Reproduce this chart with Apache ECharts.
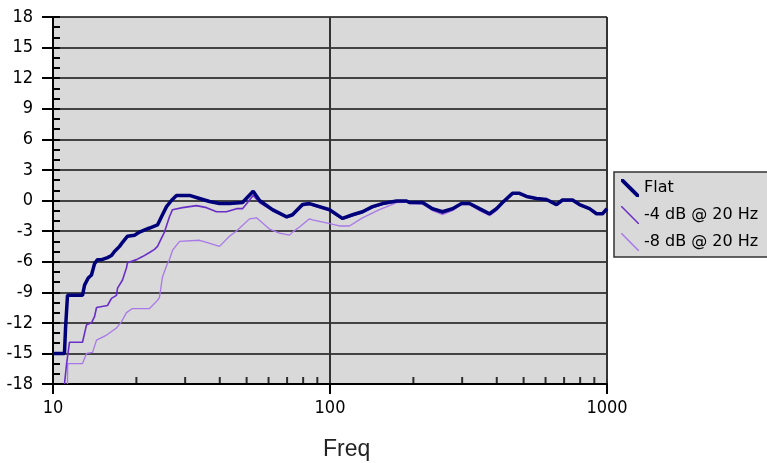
<!DOCTYPE html>
<html>
<head>
<meta charset="utf-8">
<script src="https://cdn.jsdelivr.net/npm/echarts@6/dist/echarts.min.js"></script>
<style>html,body{margin:0;padding:0;background:#fff}#c{width:767px;height:463px}</style>
</head>
<body>
<div id="c"></div>
<script>
// ---- data (frequency in Hz, level in dB) ----
const seriesNames = ['Flat', '-4 dB @ 20 Hz', '-8 dB @ 20 Hz'];

const flatFreq = [10, 11.0, 11.1, 11.28, 12.78, 13.0, 13.4, 13.77, 13.9, 14.12, 14.48, 15.0, 15.73, 16.26, 16.67, 17.39, 17.82, 18.58, 19.69, 20.53, 21.76, 22.31, 23.84, 24.84, 25.69, 26.77, 27.91, 31.1, 33.8, 36.73, 39.91, 43.37, 48.32, 52.8, 55.67, 61.98, 69.66, 73.2, 79.56, 84.33, 91.66, 99.6, 110.9, 120.6, 131.0, 142.4, 154.7, 173.9, 188.9, 193.6, 215.8, 234.4, 254.7, 276.9, 298.4, 318.9, 346.5, 376.6, 399.1, 419.5, 455.8, 483.2, 512.2, 556.6, 604.7, 657.2, 690.8, 750.6, 795.6, 864.8, 916.6, 963.4, 1000];
const flatDb   = [-15.0, -15.0, -12.5, -9.3, -9.3, -8.3, -7.6, -7.3, -6.9, -6.2, -5.8, -5.8, -5.6, -5.4, -5.0, -4.5, -4.1, -3.5, -3.4, -3.1, -2.8, -2.7, -2.4, -1.4, -0.6, 0.0, 0.5, 0.5, 0.2, -0.1, -0.3, -0.3, -0.2, 0.9, 0.0, -0.9, -1.6, -1.4, -0.4, -0.3, -0.6, -0.9, -1.75, -1.4, -1.1, -0.6, -0.3, -0.05, -0.05, -0.2, -0.2, -0.8, -1.1, -0.8, -0.3, -0.3, -0.8, -1.3, -0.8, -0.2, 0.7, 0.7, 0.4, 0.2, 0.1, -0.4, 0.05, 0.05, -0.4, -0.8, -1.3, -1.3, -0.8];

const m4Freq = [11.0, 11.2, 11.47, 12.78, 13.21, 13.77, 14.12, 14.36, 15.73, 16.26, 16.95, 17.1, 17.82, 18.42, 18.58, 20.02, 21.05, 22.31, 23.25, 23.84, 24.64, 25.26, 26.33, 27.0, 29.34, 32.96, 35.83, 38.93, 42.3, 45.97, 48.32, 52.8, 55.67, 61.98, 69.66, 73.2, 79.56, 84.33, 91.66, 99.6, 110.9, 120.6, 131.0, 142.4, 154.7, 173.9, 188.9, 193.6, 215.8, 234.4, 254.7, 276.9, 298.4, 318.9, 346.5, 376.6, 399.1, 419.5, 455.8, 483.2, 512.2, 556.6, 604.7, 657.2, 690.8, 750.6, 795.6, 864.8, 916.6, 963.4, 1000];
const m4Db   = [-18.0, -16.0, -13.9, -13.9, -12.2, -12.0, -11.4, -10.5, -10.3, -9.6, -9.3, -8.6, -7.8, -6.6, -6.1, -5.8, -5.5, -5.1, -4.8, -4.5, -3.7, -3.1, -1.6, -0.9, -0.7, -0.5, -0.7, -1.1, -1.1, -0.8, -0.8, 0.5, -0.2, -1.0, -1.7, -1.5, -0.5, -0.4, -0.7, -1.0, -1.85, -1.5, -1.2, -0.7, -0.4, -0.1, -0.1, -0.25, -0.3, -0.9, -1.25, -0.9, -0.35, -0.35, -0.9, -1.4, -0.9, -0.25, 0.65, 0.65, 0.35, 0.15, 0.05, -0.45, 0.0, 0.0, -0.45, -0.85, -1.35, -1.35, -0.85];

const m8Freq = [11.28, 11.3, 12.78, 13.21, 13.89, 14.36, 15.61, 16.95, 17.67, 18.42, 19.36, 22.31, 23.84, 24.23, 24.84, 25.69, 26.33, 27.0, 28.62, 33.8, 35.83, 39.91, 43.37, 45.97, 51.22, 54.28, 60.46, 65.7, 71.41, 73.2, 77.6, 84.33, 86.47, 97.1, 108.2, 117.6, 131.0, 150.9, 164.0, 173.9, 188.9, 193.6, 215.8, 234.4, 254.7, 276.9, 298.4, 318.9, 346.5, 376.6, 399.1, 419.5, 455.8, 483.2, 512.2, 556.6, 604.7, 657.2, 690.8, 750.6, 795.6, 864.8, 916.6, 963.4, 1000];
const m8Db   = [-18.0, -16.0, -16.0, -15.0, -14.9, -13.7, -13.2, -12.5, -11.9, -11.0, -10.6, -10.6, -9.8, -9.5, -7.5, -6.4, -5.8, -4.9, -4.0, -3.9, -4.1, -4.5, -3.5, -3.0, -1.8, -1.7, -2.8, -3.2, -3.4, -3.1, -2.6, -1.8, -1.9, -2.2, -2.5, -2.5, -1.7, -0.9, -0.5, -0.2, -0.15, -0.3, -0.35, -1.0, -1.4, -1.0, -0.4, -0.4, -1.0, -1.5, -1.0, -0.3, 0.6, 0.65, 0.35, 0.15, 0.05, -0.45, 0.0, 0.0, -0.45, -0.85, -1.35, -1.35, -0.85];

const xTickLabels = ['10', '100', '1000'];
const xMinorTicks = [20, 30, 40, 50, 60, 70, 80, 90, 200, 300, 400, 500, 600, 700, 800, 900];
const yMin = -18, yMax = 18, yStep = 3, yMinorStep = 1;

// ---- build ----
const zip = (a, b) => a.map((v, i) => [v, b[i]]);
const FONT = '"Liberation Sans", Arial, sans-serif';
const NARROW = '"Liberation Sans Narrow", "DejaVu Sans Condensed", "Liberation Sans", sans-serif';
const LEG = '"DejaVu Sans", "Liberation Sans", sans-serif';
const chart = echarts.init(document.getElementById('c'), null, {renderer: 'canvas'});
chart.setOption({
  animation: false,
  backgroundColor: '#ffffff',
  title: {
    text: 'Freq', left: 323, top: 438, padding: 0,
    textStyle: {fontFamily: FONT, fontSize: 23, fontWeight: 'normal', color: '#222'}
  },
  grid: {
    left: 53, right: 160, top: 17, bottom: 79,
    show: true, backgroundColor: '#d9d9d9', borderWidth: 0
  },
  legend: {
    orient: 'vertical', left: 614, top: 172,
    data: [
      {name: seriesNames[0], icon: 'path://M0,0 L3,0 L20,17 L20,20 L17,20 L0,3 Z'},
      {name: seriesNames[1], icon: 'path://M0,0 L1.2,0 L20,18.8 L20,20 L18.8,20 L0,1.2 Z'},
      {name: seriesNames[2], icon: 'path://M0,0 L1.2,0 L20,18.8 L20,20 L18.8,20 L0,1.2 Z'}
    ],
    itemWidth: 18, itemHeight: 18, itemGap: 9,
    padding: [7, 40, 6, 7],
    backgroundColor: '#d9d9d9', borderColor: '#333', borderWidth: 1.5, borderRadius: 0,
    textStyle: {fontFamily: LEG, fontSize: 16, color: '#000'},
    selectedMode: false
  },
  xAxis: {
    type: 'log', logBase: 10, min: 10, max: 1000,
    axisLine: {show: true, onZero: false, lineStyle: {color: '#000', width: 2}},
    axisTick: {show: true, length: 10, lineStyle: {color: '#000', width: 2}},
    axisLabel: {
      margin: 15, color: '#000', fontFamily: NARROW, fontSize: 18,
      formatter: v => xTickLabels.find(t => Math.abs(+t - v) < 1e-6) || ''
    },
    splitLine: {show: true, lineStyle: {color: '#333', width: 2}},
    minorTick: {show: false}
  },
  yAxis: [{
    type: 'value', min: yMin, max: yMax, interval: yStep,
    axisLine: {show: true, lineStyle: {color: '#000', width: 2}},
    axisTick: {show: true, length: 11, lineStyle: {color: '#000', width: 2}},
    axisLabel: {margin: 20, color: '#000', fontFamily: NARROW, fontSize: 18},
    splitLine: {show: true, lineStyle: {color: '#111', width: 1.6}}
  }, {
    type: 'value', min: yMin, max: yMax, interval: yMinorStep, position: 'left',
    axisLine: {show: false},
    axisTick: {show: true, inside: true, length: 7, lineStyle: {color: '#000', width: 2}},
    axisLabel: {show: false},
    splitLine: {show: false}
  }],
  series: [
    {
      name: 'minorTicks', type: 'scatter', silent: true, clip: false, z: 5,
      data: xMinorTicks.map(f => [f, yMin]),
      symbol: 'rect', symbolSize: [2, 7], symbolOffset: [0, -3.5],
      itemStyle: {color: '#000'}
    },
    {
      name: seriesNames[2], type: 'line', data: zip(m8Freq, m8Db), showSymbol: false, z: 2,
      color: '#a878e8', lineStyle: {color: '#a878e8', width: 1.3}
    },
    {
      name: seriesNames[1], type: 'line', data: zip(m4Freq, m4Db), showSymbol: false, z: 3,
      color: '#6a2ec8', lineStyle: {color: '#6a2ec8', width: 1.6}
    },
    {
      name: seriesNames[0], type: 'line', data: zip(flatFreq, flatDb), showSymbol: false, z: 4,
      color: '#00007a', lineStyle: {color: '#00007a', width: 3.5}
    }
  ]
});
</script>
</body>
</html>
